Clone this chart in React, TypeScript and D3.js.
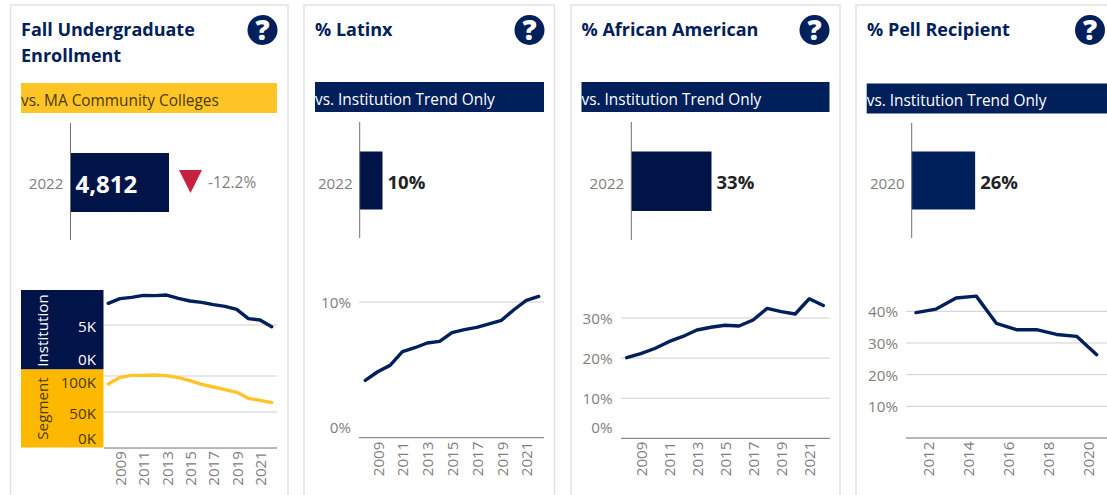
import React from "react";
import * as d3 from "d3";

const NAVY = "#00205B";
const DEEP = "#00144A";
const GOLD = "#FFC425";
const GOLD_BLOCK = "#FFB800";
const GRID = "#CFCFCF";
const AXIS = "#6E6E6E";
const GREY = "#808080";
const FONT = "'Open Sans', 'Noto Sans', sans-serif";
const TICK = 15.2;

const yearsFull = d3.range(2008, 2023);
const yearsPell = d3.range(2011, 2021);
const ticksOdd = [2009, 2011, 2013, 2015, 2017, 2019, 2021];
const ticksEven = [2012, 2014, 2016, 2018, 2020];

const enrollInstitution = [7305, 7800, 7945, 8155, 8120, 8190, 7835, 7555, 7410, 7165, 6985, 6665, 5675, 5530, 4812];
const enrollSegment = [88900, 98100, 100900, 100900, 101400, 100500, 97700, 93500, 88400, 84700, 81000, 77300, 69000, 66200, 63000];
const latinx = [4.22, 4.86, 5.33, 6.34, 6.63, 6.98, 7.1, 7.74, 7.96, 8.13, 8.38, 8.65, 9.43, 10.12, 10.41];
const africanAmerican = [20.1, 21.1, 22.4, 24.1, 25.4, 27.0, 27.7, 28.2, 28.0, 29.5, 32.4, 31.6, 31.0, 34.8, 33.1];
const pell = [39.6, 40.7, 44.2, 44.8, 36.2, 34.2, 34.2, 32.7, 32.1, 26.3];

const latestEnroll = 4812;
const latestLatinx = 10;
const latestAA = 33;
const latestPell = 26;

const fmtK = (v: number) => `${v / 1000}K`;
const fmtPct = (v: number) => `${v}%`;

function Tspan({ x, y, size, fill, weight, anchor, children }: any) {
  return (
    <text x={x} y={y} fontSize={size} fill={fill} fontWeight={weight ?? 400} textAnchor={anchor ?? "start"} fontFamily={FONT} dominantBaseline="central">
      {children}
    </text>
  );
}

function Card({ left, right, titleX, title, helpX, bandX0, bandX1, bandY, bandFill, bandText, bandTextFill }: any) {
  return (
    <g>
      <rect x={left} y={5} width={right - left} height={520} fill="#fff" stroke="#E2E2E2" strokeWidth={1.5} />
      {title.map((t: string, i: number) => (
        <text key={t} x={titleX} y={36 + i * 26} fontFamily={FONT} fontWeight={700} fontSize={18} fill={NAVY}>{t}</text>
      ))}
      <circle cx={helpX} cy={30} r={15} fill={NAVY} />
      <text x={helpX} y={40} textAnchor="middle" fontFamily={FONT} fontWeight={800} fontSize={28} fill="#fff">?</text>
      <rect x={bandX0} y={bandY} width={bandX1 - bandX0} height={30} fill={bandFill} />
      <Tspan x={bandX0} y={bandY + 17} size={15.4} fill={bandTextFill}>{bandText}</Tspan>
    </g>
  );
}

function KpiBar({ axisX, y0, y1, barY0, barY1, year, value, domainMax, pxMax, fill, label, labelInside }: any) {
  const sx = d3.scaleLinear().domain([0, domainMax]).range([axisX, axisX + pxMax]);
  const end = sx(value);
  const cy = 183;
  return (
    <g>
      <rect x={axisX} y={barY0} width={end - axisX} height={barY1 - barY0} fill={fill} />
      <line x1={axisX} x2={axisX} y1={y0} y2={y1} stroke={AXIS} strokeWidth={1} />
      <Tspan x={axisX - 7} y={cy} size={TICK} fill={GREY} anchor="end">{year}</Tspan>
      {labelInside ? (
        <Tspan x={axisX + 5} y={cy} size={24} weight={700} fill="#fff">{label}</Tspan>
      ) : (
        <Tspan x={end + 5} y={cy - 2} size={18.5} weight={700} fill="#222">{label}</Tspan>
      )}
    </g>
  );
}

function Trend({ years, values, sx, sy, stroke }: any) {
  const path = d3.line<number>().x((_, i) => sx(years[i])).y((d) => sy(d)).curve(d3.curveLinear)(values) as string;
  return <path d={path} fill="none" stroke={stroke} strokeWidth={3.4} strokeLinejoin="round" strokeLinecap="round" />;
}

function YearTicks({ ticks, sx, y, offset = 0 }: any) {
  return (
    <g>
      {ticks.map((t: number) => (
        <text key={t} transform={`translate(${sx(t) + offset},${y}) rotate(-90)`} textAnchor="end" dominantBaseline="central" fontSize={TICK} fontFamily={FONT} fill={GREY}>{t}</text>
      ))}
    </g>
  );
}

function SimplePanel({ years, values, ticks, xRange, yBase, yPerUnit, gridTicks, labelOnly, labelX, gridX0, gridX1, tickY, tickOffset }: any) {
  const sx = d3.scaleLinear().domain([years[0], years[years.length - 1]]).range(xRange);
  const sy = d3.scaleLinear().domain([0, 100]).range([yBase, yBase - yPerUnit * 100]);
  return (
    <g>
      {gridTicks.map((g: number) => (
        <line key={g} x1={gridX0} x2={gridX1} y1={sy(g)} y2={sy(g)} stroke={GRID} strokeWidth={1} />
      ))}
      {gridTicks.map((g: number) => (
        <Tspan key={g} x={labelX} y={sy(g)} size={TICK} fill={GREY} anchor="end">{fmtPct(g)}</Tspan>
      ))}
      {labelOnly && <Tspan x={labelX} y={427} size={TICK} fill={GREY} anchor="end">{fmtPct(labelOnly[0])}</Tspan>}
      <line x1={gridX0} x2={gridX1} y1={yBase} y2={yBase} stroke={AXIS} strokeWidth={1} />
      <Trend years={years} values={values} sx={sx} sy={sy} stroke={NAVY} />
      <YearTicks ticks={ticks} sx={sx} y={tickY} offset={tickOffset ?? 0} />
    </g>
  );
}

function EnrollmentPanel() {
  const sx = d3.scaleLinear().domain([2008, 2022]).range([108.3, 271.7]);
  const syInst = d3.scaleLinear().domain([0, 5000]).range([372, 325]);
  const sySeg = d3.scaleLinear().domain([0, 100000]).range([448, 376]);
  return (
    <g>
      <rect x={21} y={290} width={82.5} height={79.5} fill={DEEP} />
      <rect x={21} y={369.5} width={82.5} height={78} fill={GOLD_BLOCK} />
      <text transform="translate(41.5,330.5) rotate(-90)" textAnchor="middle" dominantBaseline="central" fontFamily={FONT} fontSize={15.2} fill="#fff">Institution</text>
      <text transform="translate(41.5,408.5) rotate(-90)" textAnchor="middle" dominantBaseline="central" fontFamily={FONT} fontSize={15.2} fill="#4A3A00">Segment</text>
      {[50000, 100000].map((g) => <line key={g} x1={104} x2={277} y1={sySeg(g)} y2={sySeg(g)} stroke={GRID} />)}
      <line x1={104} x2={277} y1={syInst(5000)} y2={syInst(5000)} stroke={GRID} />
      <Tspan x={96} y={326} size={TICK} fill="#fff" anchor="end">{fmtK(5000)}</Tspan>
      <Tspan x={96} y={359} size={TICK} fill="#fff" anchor="end">{fmtK(0)}</Tspan>
      <Tspan x={96} y={382} size={TICK} fill="#4A3A00" anchor="end">{fmtK(100000)}</Tspan>
      <Tspan x={96} y={412.5} size={TICK} fill="#4A3A00" anchor="end">{fmtK(50000)}</Tspan>
      <Tspan x={96} y={437.5} size={TICK} fill="#4A3A00" anchor="end">{fmtK(0)}</Tspan>
      <line x1={104} x2={277} y1={448} y2={448} stroke={AXIS} />
      <Trend years={yearsFull} values={enrollInstitution} sx={sx} sy={syInst} stroke={NAVY} />
      <Trend years={yearsFull} values={enrollSegment} sx={sx} sy={sySeg} stroke={GOLD} />
      <YearTicks ticks={ticksOdd} sx={sx} y={451} />
    </g>
  );
}

export default function App() {
  return (
    <svg width={1107} height={495} viewBox="0 0 1107 495" style={{ position: "absolute", left: 0, top: 0, display: "block", background: "#fff" }}>
      {/* Panel 1 */}
      <Card left={10.5} right={288} titleX={21} title={["Fall Undergraduate", "Enrollment"]} helpX={262.5} bandX0={21} bandX1={277} bandY={83} bandFill={GOLD} bandText="vs. MA Community Colleges" bandTextFill="#4A3A00" />
      <KpiBar axisX={70.5} y0={123} y1={240} barY0={153} barY1={212} year="2022" value={latestEnroll} domainMax={4812} pxMax={98.5} fill={DEEP} label="4,812" labelInside />
      <path d={d3.line()([[179, 170], [202, 170], [190.5, 193]]) + "Z"} fill="#C8203F" />
      <Tspan x={208} y={182} size={15.4} fill={GREY}>-12.2%</Tspan>
      <EnrollmentPanel />

      {/* Panel 2 */}
      <Card left={304} right={554.5} titleX={315} title={["% Latinx"]} helpX={529.5} bandX0={315} bandX1={544} bandY={82} bandFill={NAVY} bandText="vs. Institution Trend Only" bandTextFill="#fff" />
      <KpiBar axisX={359.7} y0={122} y1={238} barY0={151.5} barY1={209.5} year="2022" value={latestLatinx} domainMax={100} pxMax={228} fill={DEEP} label="10%" />
      <SimplePanel years={yearsFull} values={latinx} ticks={ticksOdd} xRange={[365.3, 538.7]} yBase={437.7} yPerUnit={13.57} gridTicks={[10]} labelOnly={[0]} labelX={351} gridX0={359} gridX1={544} tickY={441.5} />

      {/* Panel 3 */}
      <Card left={571} right={840} titleX={581.5} title={["% African American"]} helpX={814.5} bandX0={581.5} bandX1={829.5} bandY={82} bandFill={NAVY} bandText="vs. Institution Trend Only" bandTextFill="#fff" />
      <KpiBar axisX={631.3} y0={122} y1={240} barY0={151.5} barY1={211} year="2022" value={latestAA} domainMax={100} pxMax={243} fill={DEEP} label="33%" />
      <SimplePanel years={yearsFull} values={africanAmerican} ticks={ticksOdd} xRange={[626.7, 823.3]} yBase={438.3} yPerUnit={4.01} gridTicks={[10, 20, 30]} labelOnly={[0]} labelX={612.5} gridX0={621} gridX1={830} tickY={441.5} />

      {/* Panel 4 */}
      <Card left={856} right={1120} titleX={867} title={["% Pell Recipient"]} helpX={1090} bandX0={866.7} bandX1={1107} bandY={83.5} bandFill={NAVY} bandText="vs. Institution Trend Only" bandTextFill="#fff" />
      <KpiBar axisX={911.7} y0={123} y1={238} barY0={151.5} barY1={209.5} year="2020" value={latestPell} domainMax={100} pxMax={244} fill={NAVY} label="26%" />
      <SimplePanel years={yearsPell} values={pell} ticks={ticksEven} xRange={[916, 1096.7]} yBase={438} yPerUnit={3.167} gridTicks={[10, 20, 30, 40]} labelX={898} gridX0={906} gridX1={1107} tickY={441.5} tickOffset={-8.5} />
    </svg>
  );
}
